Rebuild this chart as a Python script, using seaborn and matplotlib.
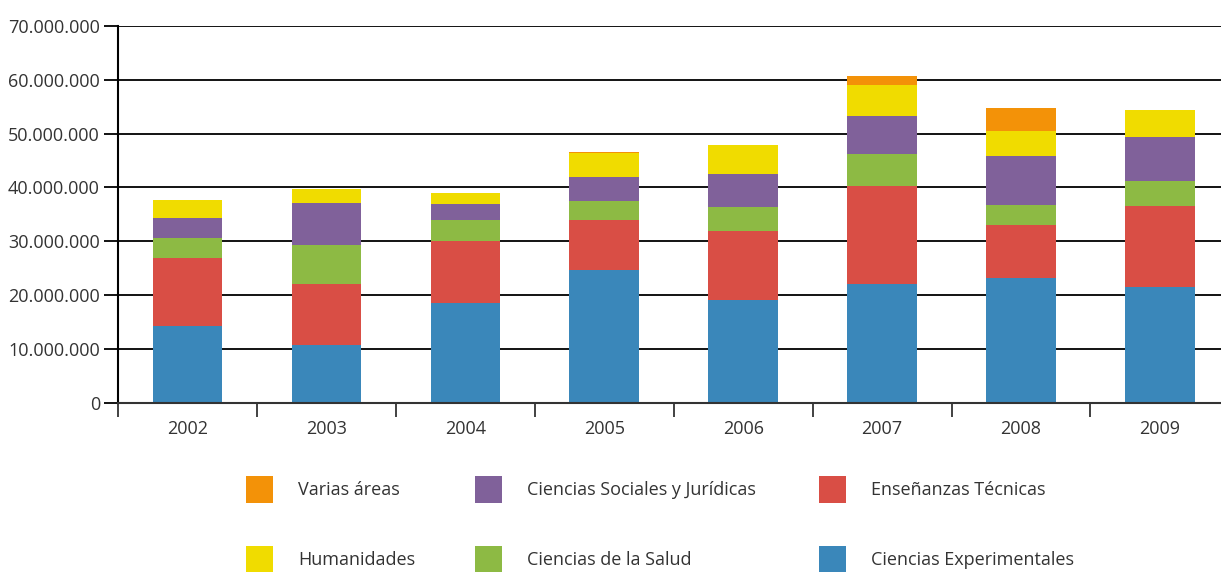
import numpy as np
import matplotlib.pyplot as plt
import seaborn as sns
from matplotlib.patches import Patch
from matplotlib.ticker import FuncFormatter, FixedLocator

# Data (millions), segment values per year, bottom to top
years = ["2002", "2003", "2004", "2005", "2006", "2007", "2008", "2009"]
experimentales = [14.35, 10.76, 18.55, 24.74, 19.17, 22.14, 23.25, 21.52]
tecnicas = [12.61, 11.32, 11.51, 9.21, 12.74, 18.12, 9.77, 15.03]
salud = [3.64, 7.22, 3.89, 3.53, 4.45, 5.94, 3.71, 4.64]
sociales = [3.70, 7.80, 2.95, 4.45, 6.13, 7.05, 9.10, 8.16]
humanidades = [3.36, 2.60, 2.06, 4.51, 5.31, 5.75, 4.63, 5.01]
varias = [0.0, 0.0, 0.0, 0.16, 0.07, 1.67, 4.27, 0.0]

series_names = ["Ciencias Experimentales", "Enseñanzas Técnicas", "Ciencias de la Salud",
                "Ciencias Sociales y Jurídicas", "Humanidades", "Varias áreas"]
series_vals = [experimentales, tecnicas, salud, sociales, humanidades, varias]
colors = ["#3a87ba", "#d94e45", "#8dba44", "#80619a", "#f0dc00", "#f39208"]

sns.set_theme(style="white")
plt.rcParams['font.family'] = ['Open Sans', 'DejaVu Sans']

fig = plt.figure(figsize=(12.21, 5.72), dpi=100)
ax = fig.add_axes([118 / 1221, 1 - 403 / 572, 1 - 118 / 1221, (403 - 25.7) / 572])

# stacked bars: draw cumulative totals from top layer down
cum = np.cumsum(np.array(series_vals) * 1e6, axis=0)
for i in range(len(series_vals) - 1, -1, -1):
    sns.barplot(x=years, y=cum[i], color=colors[i], width=0.5, saturation=1,
                linewidth=0, ax=ax)

ax.set_ylim(0, 70e6)
ax.set_xlim(-0.5, 7.44)
ax.set_yticks(np.arange(0, 70e6 + 1, 10e6))
ax.yaxis.set_major_formatter(FuncFormatter(lambda v, p: f"{v:,.0f}".replace(",", ".")))
ax.yaxis.grid(True, color="black", linewidth=1.3)
ax.set_axisbelow(True)

# category boundaries as ticks, labels centered on bars
ax.xaxis.set_major_locator(FixedLocator(np.arange(-0.5, 8, 1)))
ax.xaxis.set_minor_locator(FixedLocator(np.arange(0, 8, 1)))
ax.set_xticklabels([])
ax.set_xticklabels(years, minor=True)
ax.tick_params(axis="x", which="major", direction="out", length=10, width=1.3,
               color="#333333", bottom=True)
ax.tick_params(axis="x", which="minor", length=0, pad=12, labelsize=13, labelcolor="#333333")
ax.tick_params(axis="y", direction="out", length=10, width=1.3, color="black",
               left=True, labelsize=13, labelcolor="#333333", pad=3)
ax.set_xlabel("")
ax.set_ylabel("")

for s in ["top", "right"]:
    ax.spines[s].set_visible(False)
ax.spines["left"].set_color("black")
ax.spines["left"].set_linewidth(1.5)
ax.spines["bottom"].set_color("#333333")
ax.spines["bottom"].set_linewidth(1.5)

# legend: three columns of two entries
legend_cols = [(5, 4, 246), (3, 2, 475), (1, 0, 819)]
for top_i, bot_i, xpx in legend_cols:
    handles = [Patch(facecolor=colors[top_i], edgecolor="none"),
               Patch(facecolor=colors[bot_i], edgecolor="none")]
    fig.legend(handles, [series_names[top_i], series_names[bot_i]],
               loc="upper left", bbox_to_anchor=(xpx / 1221, 1 - 476 / 572),
               frameon=False, fontsize=13, handlelength=1.5, handleheight=1.9,
               handletextpad=1.4, labelspacing=2.4, borderpad=0, borderaxespad=0,
               labelcolor="#333333")

fig.savefig("out.png", dpi=100)
